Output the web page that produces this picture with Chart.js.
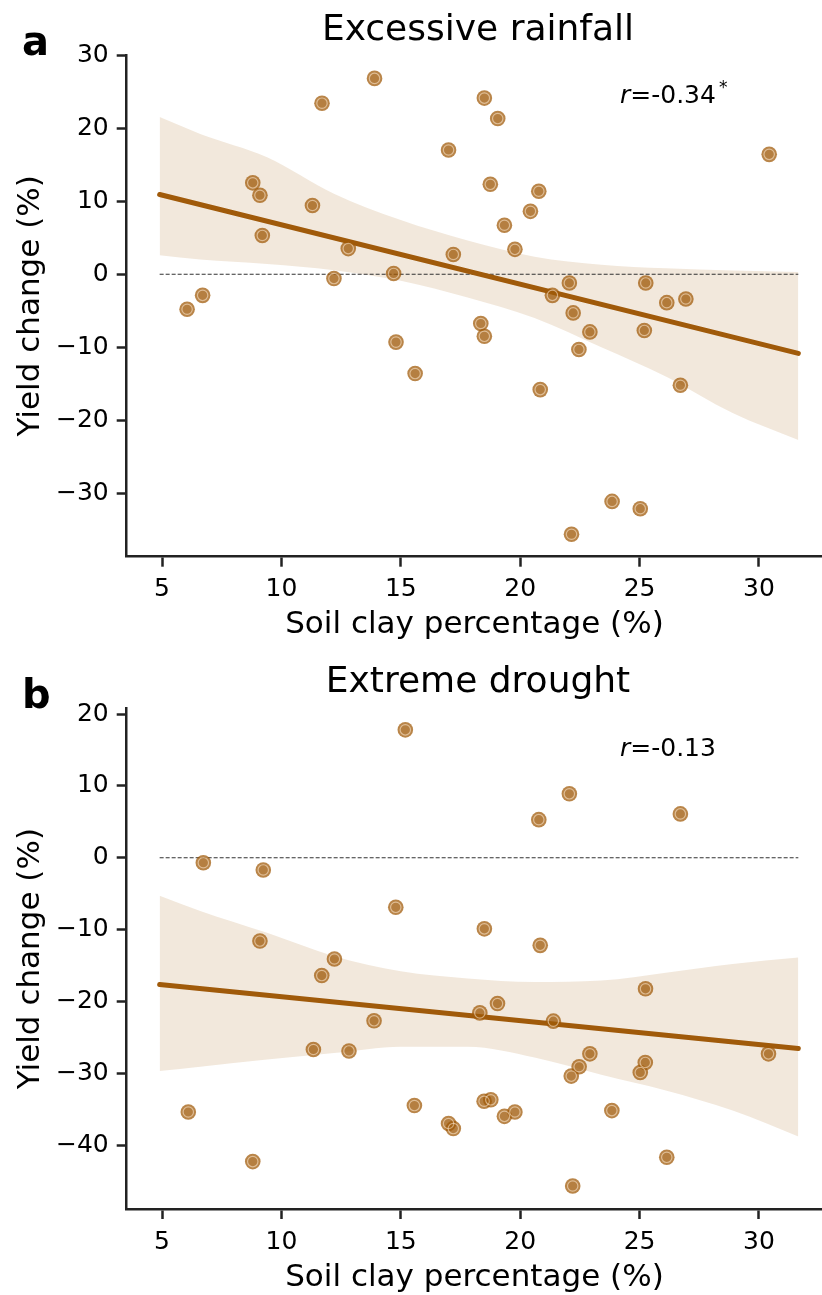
<!DOCTYPE html>
<html lang="en">
<head>
<meta charset="utf-8"/>
<title>Yield change vs soil clay</title>
<script src="https://cdn.jsdelivr.net/npm/chart.js@4.4.1/dist/chart.umd.min.js"></script>
<style>
  html, body { margin: 0; padding: 0; background: #fff; overflow: hidden; }
  .panel { position: absolute; left: 0; width: 822px; overflow: hidden; }
</style>
</head>
<body>
<!-- canvases are a bit wider than the page so the x axis runs to the right edge, as in the figure -->
<div class="panel" style="top:0; height:650px"><canvas id="rain" width="830" height="650"></canvas></div>
<div class="panel" style="top:650px; height:645px"><canvas id="drought" width="830" height="645"></canvas></div>

<script>
// ---- data ----
const xTicks = [5, 10, 15, 20, 25, 30];

// a) excessive rainfall
const rainClay  = [6.05, 6.7, 8.8, 9.1, 9.2, 11.3, 11.7, 12.2, 12.8, 13.9, 14.7, 14.8, 15.6, 17.0, 17.2, 18.35, 18.5, 18.5, 18.75, 19.06, 19.34, 19.78, 20.43, 20.78, 20.84, 21.35, 22.06, 22.15, 22.22, 22.46, 22.92, 23.85, 25.03, 25.2, 25.26, 26.14, 26.71, 26.94, 30.43];
const rainYield = [-4.8, -2.9, 12.5, 10.8, 5.3, 9.4, 23.4, -0.6, 3.5, 26.8, 0.1, -9.3, -13.6, 17.0, 2.7, -6.75, -8.5, 24.1, 12.3, 21.3, 6.7, 3.4, 8.6, 11.35, -15.8, -2.9, -1.2, -35.6, -5.3, -10.3, -7.9, -31.1, -32.1, -7.7, -1.2, -3.9, -15.2, -3.4, 16.4];
const rainFitX = [4.9, 31.65];
const rainFitY = [10.9, -10.85];
const ciX = [4.9, 6.6, 9.4, 12.2, 15.0, 17.8, 20.6, 23.4, 26.1, 28.9, 31.65];
const rainCiUpper = [21.5, 19.2, 16.0, 11.0, 7.4, 4.6, 2.4, 1.3, 0.8, 0.5, 0.3];
const rainCiLower = [2.6, 2.0, 1.4, 0.55, -0.9, -3.2, -6.0, -10.0, -14.0, -19.0, -22.7];
const rainTicksY = [-30, -20, -10, 0, 10, 20, 30];

// b) extreme drought
const droughtClay  = [6.73, 9.24, 14.79, 15.19, 9.1, 12.22, 22.06, 20.78, 26.71, 18.5, 20.84, 11.69, 13.88, 11.34, 12.83, 6.1, 8.8, 15.57, 25.25, 19.05, 18.31, 21.39, 22.92, 30.4, 25.24, 22.47, 25.03, 22.14, 18.49, 18.77, 23.84, 19.78, 19.34, 17.0, 17.2, 26.14, 22.2];
const droughtYield = [-0.7, -1.7, -6.9, 17.8, -11.6, -14.1, 8.9, 5.3, 6.1, -9.9, -12.2, -16.4, -22.7, -26.7, -26.9, -35.4, -42.3, -34.5, -18.25, -20.3, -21.6, -22.75, -27.3, -27.3, -28.5, -29.1, -29.9, -30.4, -33.9, -33.7, -35.2, -35.4, -36.0, -37.0, -37.7, -41.7, -45.7];
const droughtFitX = [4.9, 31.65];
const droughtFitY = [-17.65, -26.56];
const droughtCiUpper = [-5.3, -7.4, -10.45, -13.7, -15.8, -16.8, -17.3, -17.1, -16.0, -14.8, -13.9];
const droughtCiLower = [-29.7, -29.1, -28.1, -27.2, -26.3, -26.3, -27.8, -30.2, -32.4, -35.2, -38.8];
const droughtTicksY = [-40, -30, -20, -10, 0, 10, 20];

const zeroX = [4.9, 31.65];

// ---- styling ----
const FONT = "'DejaVu Sans'";
const brown = 'rgb(160, 90, 10)';
const pts = (xs, ys) => xs.map((x, i) => ({ x: x, y: ys[i] }));

Chart.defaults.font.family = FONT;
Chart.defaults.color = '#000';

// titles, panel letters and r annotations
const panelText = {
  id: 'panelText',
  afterDraw(chart, args, o) {
    const ctx = chart.ctx;
    ctx.save();
    ctx.fillStyle = '#000';
    ctx.textBaseline = 'alphabetic';
    ctx.font = 'bold 40px ' + FONT;
    ctx.textAlign = 'left';
    ctx.fillText(o.letter, 22, o.letterY);
    ctx.font = '36px ' + FONT;
    ctx.textAlign = 'center';
    ctx.fillText(o.title, 478, o.titleY);
    ctx.textAlign = 'left';
    ctx.font = 'italic 25px ' + FONT;
    ctx.fillText('r', 620, o.rY);
    let x = 620 + ctx.measureText('r').width;
    ctx.font = '25px ' + FONT;
    ctx.fillText(o.r, x, o.rY);
    x += ctx.measureText(o.r).width;
    if (o.star) {
      ctx.font = '17px ' + FONT;
      ctx.fillText('*', x + 3, o.rY - 10);
    }
    ctx.restore();
  }
};

function makeChart(id, cfg) {
  const axisBase = {
    border: { display: true, color: '#222', width: 2.5 },
    grid: { drawOnChartArea: false, drawTicks: true, tickLength: 10, tickWidth: 2.5, tickColor: '#222' },
  };
  return new Chart(document.getElementById(id), {
    type: 'line',
    data: {
      datasets: [
        { data: pts(cfg.clay, cfg.yield), type: 'scatter', order: 0, pointRadius: 5.2,
          backgroundColor: 'rgba(160, 90, 10, 0.12)', borderColor: 'rgba(255, 236, 215, 0.55)', borderWidth: 1.2 },
        { data: pts(cfg.clay, cfg.yield), type: 'scatter', order: 1, pointRadius: 7.8,
          backgroundColor: 'rgba(160, 90, 10, 0.74)', borderWidth: 0 },
        { data: pts(cfg.fitX, cfg.fitY), order: 2, borderColor: brown, borderWidth: 5,
          pointRadius: 0, borderCapStyle: 'round', fill: false },
        { data: zeroX.map(x => ({ x: x, y: 0 })), order: 3, borderColor: '#333', borderWidth: 1.1,
          borderDash: [4, 2], pointRadius: 0, fill: false },
        { data: pts(ciX, cfg.ciUpper), order: 4, borderWidth: 0, pointRadius: 0,
          cubicInterpolationMode: 'monotone', fill: false },
        { data: pts(ciX, cfg.ciLower), order: 4, borderWidth: 0, pointRadius: 0,
          cubicInterpolationMode: 'monotone', fill: '-1', backgroundColor: 'rgba(160, 90, 10, 0.14)' }
      ]
    },
    options: {
      responsive: false,
      animation: false,
      events: [],
      layout: { padding: { top: cfg.top, left: 0, right: 0, bottom: 0 } },
      plugins: { legend: { display: false }, tooltip: { enabled: false }, panelText: cfg.text },
      scales: {
        x: Object.assign({}, axisBase, {
          type: 'linear', min: 3.52, max: 32.65,
          afterBuildTicks: s => { s.ticks = xTicks.map(v => ({ value: v })); },
          afterFit: s => { s.height = cfg.xAxisH; s.paddingLeft = 0; s.paddingRight = 0; },
          ticks: { font: { size: 25 }, padding: 8, autoSkip: false, maxRotation: 0, color: '#000' },
          title: { display: true, text: 'Soil clay percentage (%)', font: { size: 31, lineHeight: 1 },
                   padding: { top: 0, bottom: cfg.xTitlePad }, color: '#000' }
        }),
        y: Object.assign({}, axisBase, {
          type: 'linear', min: cfg.yMin, max: cfg.yMax,
          afterBuildTicks: s => { s.ticks = cfg.yTicks.map(v => ({ value: v })); },
          afterFit: s => { s.width = 126.7; },
          ticks: { font: { size: 25 }, padding: 8, autoSkip: false, color: '#000',
                   callback: v => (v < 0 ? '\u2212' + Math.abs(v) : String(v)) },
          title: { display: true, text: 'Yield change (%)', font: { size: 31, lineHeight: 1 },
                   padding: { top: 15, bottom: 0 }, color: '#000' }
        })
      }
    },
    plugins: [panelText]
  });
}

makeChart('rain', {
  clay: rainClay, yield: rainYield, fitX: rainFitX, fitY: rainFitY,
  ciUpper: rainCiUpper, ciLower: rainCiLower,
  yMin: -38.67, yMax: 30, yTicks: rainTicksY,
  top: 55, xAxisH: 650 - 556.7, xTitlePad: 9.7,
  text: { letter: 'a', letterY: 55, title: 'Excessive rainfall', titleY: 40, r: '=-0.34', rY: 103, star: true }
});

makeChart('drought', {
  clay: droughtClay, yield: droughtYield, fitX: droughtFitX, fitY: droughtFitY,
  ciUpper: droughtCiUpper, ciLower: droughtCiLower,
  yMin: -48.9, yMax: 20.8, yTicks: droughtTicksY,
  top: 58.3, xAxisH: 645 - 559, xTitlePad: 2,
  text: { letter: 'b', letterY: 58, title: 'Extreme drought', titleY: 41.7, r: '=-0.13', rY: 106, star: false }
});
</script>
</body>
</html>
